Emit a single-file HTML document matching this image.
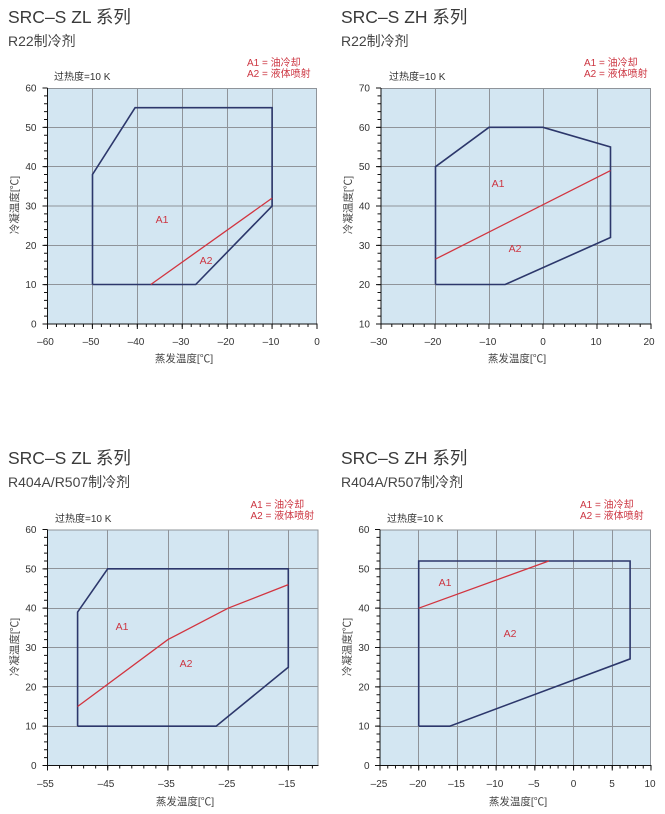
<!DOCTYPE html>
<html><head><meta charset="utf-8"><style>
html,body{margin:0;padding:0;background:#fff;}
svg{display:block;}
text{font-family:"Liberation Sans","Noto Sans CJK SC",sans-serif;}
.t{font-size:17.5px;fill:#3a3a3a;}
.s{font-size:14px;fill:#444;}
.l{font-size:10px;fill:#cc3541;}
.k{font-size:10px;fill:#333;}
.n{font-size:10px;fill:#333;}
.a{font-size:10.5px;fill:#444;}
.g{stroke:#8f949a;stroke-width:1;fill:none;}
.ax{stroke:#111;stroke-width:1;fill:none;}
.tk{stroke:#111;fill:none;}
.pg{stroke:#2c376b;stroke-width:1.6;fill:none;stroke-linejoin:miter;}
.rd{stroke:#d2343f;stroke-width:1.3;fill:none;}
.al{font-size:10.5px;fill:#cc3541;}
</style></head><body>
<svg width="665" height="814" viewBox="0 0 665 814" xmlns="http://www.w3.org/2000/svg">

<!-- ================= Chart 1 ================= -->
<text class="t" x="8" y="23">SRC–S ZL 系列</text>
<text class="s" x="8" y="46">R22制冷剂</text>
<text class="l" x="247" y="66">A1 = 油冷却</text>
<text class="l" x="247" y="77">A2 = 液体喷射</text>
<text class="k" x="54" y="80">过热度=10 K</text>
<rect x="47.5" y="88" width="269.5" height="236" fill="#d3e6f2"/>
<path class="g" d="M92.5 88V324M137.5 88V324M182.5 88V324M227.5 88V324M272.5 88V324M316.5 88V324M47.5 284.5H317M47.5 245.5H317M47.5 206H317M47.5 166.5H317M47.5 127.5H317M47.5 88.5H317"/>
<polyline class="pg" points="92.5,284.5 92.5,174.5 135.1,107.7 272.1,107.7 272.1,206 195.7,284.5 92.5,284.5"/>
<line class="rd" x1="150.8" y1="284.5" x2="272.1" y2="198.1"/>
<text class="al" x="162" y="223" text-anchor="middle">A1</text>
<text class="al" x="206" y="264" text-anchor="middle">A2</text>
<path class="ax" d="M47.5 88V324.5M47 324H317.5"/>
<line class="tk" x1="45.5" y1="87.5" x2="45.5" y2="324.5" stroke-width="3" stroke-dasharray="1 6.867"/>
<line class="tk" x1="45" y1="87.5" x2="45" y2="324.5" stroke-width="5" stroke-dasharray="1 38.333"/>
<line class="tk" x1="47" y1="325.5" x2="318" y2="325.5" stroke-width="3" stroke-dasharray="1 7.983"/>
<line class="tk" x1="47" y1="326.5" x2="318" y2="326.5" stroke-width="5" stroke-dasharray="1 43.917"/>
<g class="n" text-anchor="end">
<text x="36.5" y="91.5">60</text><text x="36.5" y="131">50</text><text x="36.5" y="170">40</text><text x="36.5" y="209.5">30</text><text x="36.5" y="249">20</text><text x="36.5" y="288">10</text><text x="36.5" y="327.5">0</text>
</g>
<g class="n" text-anchor="middle">
<text x="45.5" y="345">–60</text><text x="91" y="345">–50</text><text x="136" y="345">–40</text><text x="181" y="345">–30</text><text x="226" y="345">–20</text><text x="271" y="345">–10</text><text x="317" y="345">0</text>
</g>
<text class="a" x="184" y="362" text-anchor="middle">蒸发温度[℃]</text>
<text class="a" transform="translate(18,205) rotate(-90)" text-anchor="middle">冷凝温度[℃]</text>

<!-- ================= Chart 2 ================= -->
<text class="t" x="341" y="23">SRC–S ZH 系列</text>
<text class="s" x="341" y="46">R22制冷剂</text>
<text class="l" x="584" y="66">A1 = 油冷却</text>
<text class="l" x="584" y="77">A2 = 液体喷射</text>
<text class="k" x="389" y="80">过热度=10 K</text>
<rect x="381" y="88" width="270" height="236" fill="#d3e6f2"/>
<path class="g" d="M435.5 88V324M489.5 88V324M543.5 88V324M597.5 88V324M650.5 88V324M381 284.5H651M381 245.5H651M381 206H651M381 166.5H651M381 127.5H651M381 88.5H651"/>
<polyline class="pg" points="435.5,284.5 435.5,166.7 489,127.3 543,127.3 610.5,147 610.5,237.5 505.2,284.5 435.5,284.5"/>
<line class="rd" x1="435.5" y1="259.1" x2="610.5" y2="170.6"/>
<text class="al" x="498" y="187" text-anchor="middle">A1</text>
<text class="al" x="515" y="252" text-anchor="middle">A2</text>
<path class="ax" d="M381 88V324.5M380.5 324H651.5"/>
<line class="tk" x1="379" y1="87.5" x2="379" y2="324.5" stroke-width="3" stroke-dasharray="1 6.867"/>
<line class="tk" x1="378.5" y1="87.5" x2="378.5" y2="324.5" stroke-width="5" stroke-dasharray="1 38.333"/>
<line class="tk" x1="380.5" y1="325.5" x2="651.5" y2="325.5" stroke-width="3" stroke-dasharray="1 9.8"/>
<line class="tk" x1="380.5" y1="326.5" x2="651.5" y2="326.5" stroke-width="5" stroke-dasharray="1 53"/>
<g class="n" text-anchor="end">
<text x="370" y="91.5">70</text><text x="370" y="131">60</text><text x="370" y="170">50</text><text x="370" y="209.5">40</text><text x="370" y="249">30</text><text x="370" y="288">20</text><text x="370" y="327.5">10</text>
</g>
<g class="n" text-anchor="middle">
<text x="379" y="345">–30</text><text x="433" y="345">–20</text><text x="488" y="345">–10</text><text x="543" y="345">0</text><text x="596" y="345">10</text><text x="649" y="345">20</text>
</g>
<text class="a" x="517" y="362" text-anchor="middle">蒸发温度[℃]</text>
<text class="a" transform="translate(351.5,205) rotate(-90)" text-anchor="middle">冷凝温度[℃]</text>

<!-- ================= Chart 3 ================= -->
<text class="t" x="8" y="464">SRC–S ZL 系列</text>
<text class="s" x="8" y="487">R404A/R507制冷剂</text>
<text class="l" x="250.5" y="508">A1 = 油冷却</text>
<text class="l" x="250.5" y="519">A2 = 液体喷射</text>
<text class="k" x="55" y="522">过热度=10 K</text>
<rect x="47.5" y="529.5" width="271" height="236" fill="#d3e6f2"/>
<path class="g" d="M107.5 529.5V765.5M168.5 529.5V765.5M228.5 529.5V765.5M288.5 529.5V765.5M318 529.5V765.5M47.5 726.5H318.5M47.5 686.5H318.5M47.5 647.5H318.5M47.5 608.5H318.5M47.5 568.5H318.5M47.5 530H318.5"/>
<polyline class="pg" points="77.6,726.2 77.6,612.1 107.7,568.8 288.3,568.8 288.3,667.2 216.1,726.2 77.6,726.2"/>
<polyline class="rd" points="77.6,706.5 167.9,639.6 228.1,608.2 288.3,584.6"/>
<text class="al" x="122" y="630" text-anchor="middle">A1</text>
<text class="al" x="186" y="667" text-anchor="middle">A2</text>
<path class="ax" d="M47.5 529.5V766M47 765.5H318.5"/>
<line class="tk" x1="45.5" y1="529" x2="45.5" y2="766" stroke-width="3" stroke-dasharray="1 6.867"/>
<line class="tk" x1="45" y1="529" x2="45" y2="766" stroke-width="5" stroke-dasharray="1 38.333"/>
<line class="tk" x1="47" y1="767" x2="318" y2="767" stroke-width="3" stroke-dasharray="1 11.04"/>
<line class="tk" x1="47" y1="768" x2="318" y2="768" stroke-width="5" stroke-dasharray="1 59.2"/>
<g class="n" text-anchor="end">
<text x="36.5" y="533">60</text><text x="36.5" y="572.5">50</text><text x="36.5" y="611.5">40</text><text x="36.5" y="651">30</text><text x="36.5" y="690.5">20</text><text x="36.5" y="729.5">10</text><text x="36.5" y="769">0</text>
</g>
<g class="n" text-anchor="middle">
<text x="45.5" y="787">–55</text><text x="106" y="787">–45</text><text x="166.5" y="787">–35</text><text x="227" y="787">–25</text><text x="287" y="787">–15</text>
</g>
<text class="a" x="185" y="805" text-anchor="middle">蒸发温度[℃]</text>
<text class="a" transform="translate(18,647) rotate(-90)" text-anchor="middle">冷凝温度[℃]</text>

<!-- ================= Chart 4 ================= -->
<text class="t" x="341" y="464">SRC–S ZH 系列</text>
<text class="s" x="341" y="487">R404A/R507制冷剂</text>
<text class="l" x="580" y="508">A1 = 油冷却</text>
<text class="l" x="580" y="519">A2 = 液体喷射</text>
<text class="k" x="387" y="522">过热度=10 K</text>
<rect x="380" y="529.5" width="271" height="236" fill="#d3e6f2"/>
<path class="g" d="M418.5 529.5V765.5M457.5 529.5V765.5M496.5 529.5V765.5M535.5 529.5V765.5M573.5 529.5V765.5M612.5 529.5V765.5M650.5 529.5V765.5M380 726.5H651M380 686.5H651M380 647.5H651M380 608.5H651M380 568.5H651M380 530H651"/>
<polyline class="pg" points="418.7,726.2 418.7,561 630.1,561 630.1,658.9 449.7,726.2 418.7,726.2"/>
<line class="rd" x1="418.7" y1="608.2" x2="548.8" y2="561"/>
<text class="al" x="445" y="586" text-anchor="middle">A1</text>
<text class="al" x="510" y="637" text-anchor="middle">A2</text>
<path class="ax" d="M380 529.5V766M379.5 765.5H651.5"/>
<line class="tk" x1="378" y1="529" x2="378" y2="766" stroke-width="3" stroke-dasharray="1 6.867"/>
<line class="tk" x1="377.5" y1="529" x2="377.5" y2="766" stroke-width="5" stroke-dasharray="1 38.333"/>
<line class="tk" x1="379.5" y1="767" x2="652" y2="767" stroke-width="3" stroke-dasharray="1 6.743"/>
<line class="tk" x1="379.5" y1="768" x2="652" y2="768" stroke-width="5" stroke-dasharray="1 37.71"/>
<g class="n" text-anchor="end">
<text x="369.5" y="533">60</text><text x="369.5" y="572.5">50</text><text x="369.5" y="611.5">40</text><text x="369.5" y="651">30</text><text x="369.5" y="690.5">20</text><text x="369.5" y="729.5">10</text><text x="369.5" y="769">0</text>
</g>
<g class="n" text-anchor="middle">
<text x="379" y="787">–25</text><text x="418" y="787">–20</text><text x="456.5" y="787">–15</text><text x="495" y="787">–10</text><text x="534" y="787">–5</text><text x="573.5" y="787">0</text><text x="612" y="787">5</text><text x="650" y="787">10</text>
</g>
<text class="a" x="518" y="805" text-anchor="middle">蒸发温度[℃]</text>
<text class="a" transform="translate(350.5,647) rotate(-90)" text-anchor="middle">冷凝温度[℃]</text>

</svg>
</body></html>
